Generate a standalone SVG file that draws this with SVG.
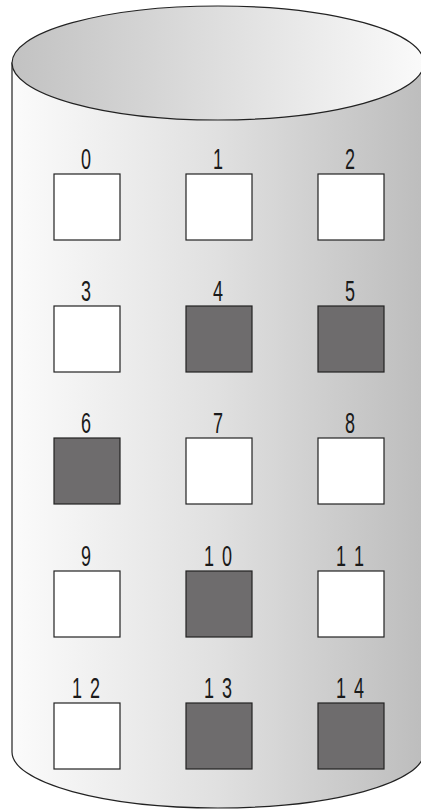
<svg xmlns="http://www.w3.org/2000/svg" width="421" height="811" viewBox="0 0 421 811">
<defs>
<linearGradient id="body" x1="0" y1="0" x2="1" y2="0">
<stop offset="0" stop-color="#fbfbfb"/>
<stop offset="0.5" stop-color="#e0e0e0"/>
<stop offset="1" stop-color="#bdbdbd"/>
</linearGradient>
<linearGradient id="top" x1="0" y1="0" x2="1" y2="0">
<stop offset="0" stop-color="#c2c2c2"/>
<stop offset="1" stop-color="#fafafa"/>
</linearGradient>
</defs>
<style>
.cyl{stroke:#222;stroke-width:1.2}
.sq{stroke:#222;stroke-width:1.2}
.w{fill:#ffffff}
.d{fill:#6e6c6d}
.lbl{font-family:"Liberation Sans",Arial,sans-serif;font-size:30px;fill:#1a1a1a;text-anchor:middle}
</style>
<g id="cylinder">
<path class="cyl" d="M12,63 L12,752 A206,56 0 0 0 424,752 L424,63 Z" fill="url(#body)"/>
<ellipse class="cyl" cx="218" cy="63" rx="206" ry="57" fill="url(#top)"/>
</g>
<g id="node0"><rect class="sq w" x="54" y="174" width="66" height="66"/><text class="lbl" transform="translate(86,169) scale(0.6,1)">0</text></g>
<g id="node1"><rect class="sq w" x="186" y="174" width="66" height="66"/><text class="lbl" transform="translate(218,169) scale(0.6,1)">1</text></g>
<g id="node2"><rect class="sq w" x="318" y="174" width="66" height="66"/><text class="lbl" transform="translate(350,169) scale(0.6,1)">2</text></g>
<g id="node3"><rect class="sq w" x="54" y="306" width="66" height="66"/><text class="lbl" transform="translate(86,301) scale(0.6,1)">3</text></g>
<g id="node4"><rect class="sq d" x="186" y="306" width="66" height="66"/><text class="lbl" transform="translate(218,301) scale(0.6,1)">4</text></g>
<g id="node5"><rect class="sq d" x="318" y="306" width="66" height="66"/><text class="lbl" transform="translate(350,301) scale(0.6,1)">5</text></g>
<g id="node6"><rect class="sq d" x="54" y="438" width="66" height="66"/><text class="lbl" transform="translate(86,433) scale(0.6,1)">6</text></g>
<g id="node7"><rect class="sq w" x="186" y="438" width="66" height="66"/><text class="lbl" transform="translate(218,433) scale(0.6,1)">7</text></g>
<g id="node8"><rect class="sq w" x="318" y="438" width="66" height="66"/><text class="lbl" transform="translate(350,433) scale(0.6,1)">8</text></g>
<g id="node9"><rect class="sq w" x="54" y="571" width="66" height="66"/><text class="lbl" transform="translate(86,566) scale(0.6,1)">9</text></g>
<g id="node10"><rect class="sq d" x="186" y="571" width="66" height="66"/><text class="lbl" transform="translate(218,566) scale(0.6,1)"><tspan x="-15">1</tspan><tspan x="15">0</tspan></text></g>
<g id="node11"><rect class="sq w" x="318" y="571" width="66" height="66"/><text class="lbl" transform="translate(350,566) scale(0.6,1)"><tspan x="-15">1</tspan><tspan x="15">1</tspan></text></g>
<g id="node12"><rect class="sq w" x="54" y="703" width="66" height="66"/><text class="lbl" transform="translate(86,698) scale(0.6,1)"><tspan x="-15">1</tspan><tspan x="15">2</tspan></text></g>
<g id="node13"><rect class="sq d" x="186" y="703" width="66" height="66"/><text class="lbl" transform="translate(218,698) scale(0.6,1)"><tspan x="-15">1</tspan><tspan x="15">3</tspan></text></g>
<g id="node14"><rect class="sq d" x="318" y="703" width="66" height="66"/><text class="lbl" transform="translate(350,698) scale(0.6,1)"><tspan x="-15">1</tspan><tspan x="15">4</tspan></text></g>
<g id="connectors"></g>
</svg>
